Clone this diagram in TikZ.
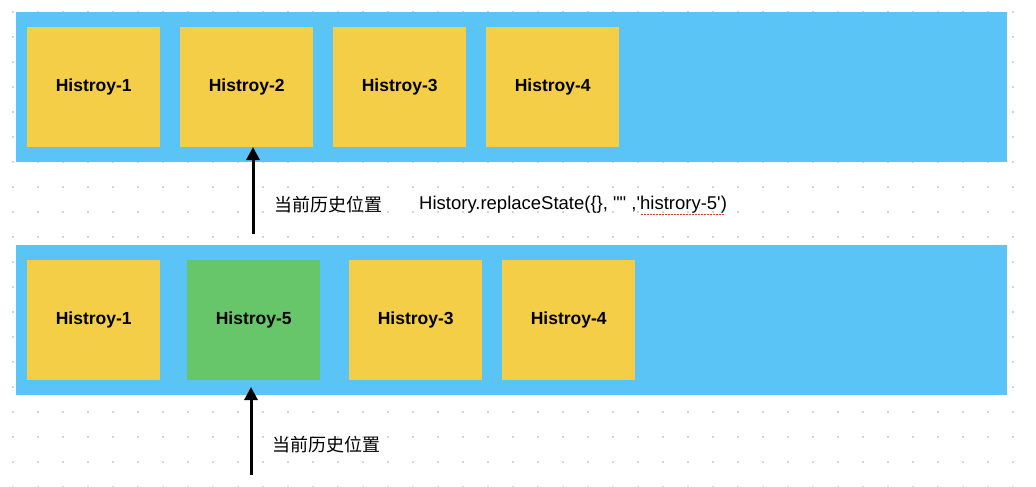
\documentclass[tikz,border=0pt]{standalone}
\usepackage{fontspec}
\setmainfont{Noto Sans CJK SC}
\newfontfamily\latinfont{Liberation Sans}[Ligatures=TeXOff]
\usetikzlibrary{arrows.meta}

\definecolor{bandblue}{HTML}{5BC4F6}
\definecolor{entryyellow}{HTML}{F5CE47}
\definecolor{entrygreen}{HTML}{67C66A}
\definecolor{gridgray}{HTML}{D4D4D4}
\definecolor{spellred}{HTML}{E8352E}

\tikzset{
  band/.style={fill=bandblue, anchor=north west, inner sep=0pt,
    minimum width=991pt, minimum height=150pt},
  entry/.style={fill=entryyellow, anchor=north west, inner sep=0pt,
    minimum width=133pt, minimum height=120pt,
    font=\latinfont\bfseries\fontsize{17.5}{20}\selectfont},
  current/.style={entry, fill=entrygreen},
  note/.style={anchor=west, inner sep=0pt, font=\fontsize{18}{20}\selectfont},
  code/.style={note, font=\latinfont\fontsize{18.5}{20}\selectfont},
  pointer/.style={line width=3pt, -{Triangle[width=13pt,length=13pt]}}
}

\begin{document}
\begin{tikzpicture}[x=1pt, y=-1pt]
  \useasboundingbox (0,0) rectangle (1036,487);

  % Dot grid
  \foreach \x in {13,38,...,1013}
    \foreach \y in {12,37,...,487}
      \fill[gridgray] (\x-1.2,\y-1.2) rectangle +(2.4,2.4);

  % Before replaceState
  \node[band] (before) at (16,12) {};
  \foreach \i/\x in {1/27,2/180,3/333,4/486}
    \node[entry] (top\i) at (\x,27) {Histroy-\i};

  % After replaceState
  \node[band] (after) at (16,245) {};
  \node[entry] (bot1) at (27,260) {Histroy-1};
  \node[current] (bot5) at (187,260) {Histroy-5};
  \node[entry] (bot3) at (349,260) {Histroy-3};
  \node[entry] (bot4) at (502,260) {Histroy-4};

  % Pointers
  \coordinate (tail1) at (253,234);
  \coordinate (head1) at (253,147);
  \coordinate (tail2) at (251,475);
  \coordinate (head2) at (251,387);
  \draw[pointer] (tail1) -- (head1);
  \draw[pointer] (tail2) -- (head2);

  % Labels
  \node[note] (pos1) at (274,205) {当前历史位置};
  \node[code] (call) at (419,205) {History.replaceState(\{\}, "" ,'histrory-5')};
  \node[note] (pos2) at (272,445) {当前历史位置};
  \draw[spellred, line width=1.1pt, dash pattern=on 1.5pt off 1.5pt] (641,214.5) -- (724,214.5);
\end{tikzpicture}
\end{document}
